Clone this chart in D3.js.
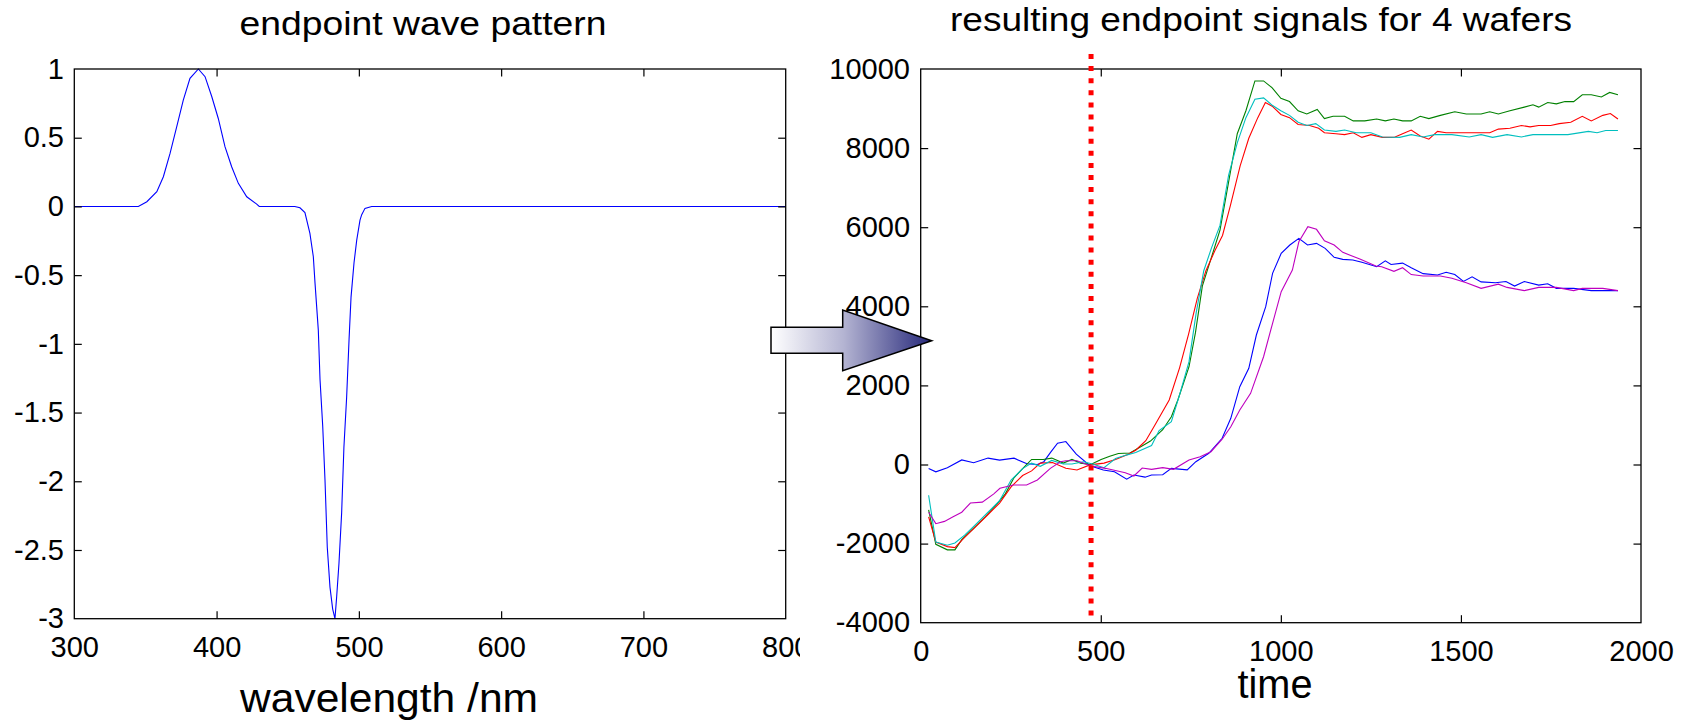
<!DOCTYPE html>
<html><head><meta charset="utf-8">
<script src="https://cdn.jsdelivr.net/npm/d3@7"></script>
<style>
body{margin:0;background:#fff;}
svg{display:block;}
text{font-family:"Liberation Sans",Arial,sans-serif;fill:#000;}
</style>
</head><body>
<svg id="c" width="1689" height="721"></svg>
<script>
// ---------- data ----------
const waveTitle = "endpoint wave pattern";
const waveXLabel = "wavelength /nm";
const waveXTicks = [300, 400, 500, 600, 700, 800];
const waveYTicks = [-3, -2.5, -2, -1.5, -1, -0.5, 0, 0.5, 1];
const waveWavelength = [300,345,351,358,362.6,367.3,372,376.6,381.3,387.2,391.9,396.6,401.2,405.9,410.6,415.3,421.2,428.2,430,455,458.6,462.1,465.6,468,469.2,471.5,472.7,474.6,476.2,477.8,479.7,481.6,483.2,484.4,486,487.9,489.5,491.4,493.1,494.5,496.6,498.5,500.8,502,504.3,509,800];
const waveAmplitude  = [0,0,0.034,0.107,0.216,0.386,0.58,0.774,0.932,1.0,0.944,0.80,0.64,0.435,0.289,0.168,0.07,0.017,0,0,-0.01,-0.045,-0.196,-0.366,-0.56,-0.90,-1.26,-1.60,-1.99,-2.48,-2.77,-2.93,-3.0,-2.84,-2.60,-2.23,-1.75,-1.39,-0.97,-0.66,-0.41,-0.245,-0.10,-0.06,-0.014,0,0];

const signalTitle = "resulting endpoint signals for 4 wafers";
const signalXLabel = "time";
const signalXTicks = [0, 500, 1000, 1500, 2000];
const signalYTicks = [-4000, -2000, 0, 2000, 4000, 6000, 8000, 10000];
const endpointTime = 473;

const blueSignal = [[22,-104],[42,-186],[74,-81],[114,116],[147,46],[187,162],[219,110],[259,160],[295,20],[324,0],[342,71],[360,300],[380,540],[403,580],[432,260],[470,-30],[507,-139],[538,-182],[572,-370],[592,-265],[623,-320],[641,-265],[672,-260],[696,-97],[740,-135],[764,71],[800,283],[837,662],[861,1168],[886,1967],[911,2432],[932,3274],[958,3990],[977,4833],[1001,5339],[1025,5549],[1050,5718],[1074,5549],[1099,5592],[1123,5465],[1148,5238],[1172,5187],[1200,5170],[1225,5116],[1266,5000],[1290,5150],[1306,5058],[1338,5092],[1362,4976],[1395,4826],[1435,4791],[1459,4860],[1483,4802],[1507,4628],[1531,4744],[1556,4617],[1596,4594],[1625,4628],[1649,4512],[1676,4628],[1716,4536],[1741,4570],[1765,4454],[1813,4454],[1862,4396],[1936,4396]];
const greenSignal = [[22,-1148],[42,-2018],[74,-2158],[95,-2158],[114,-1902],[147,-1612],[179,-1322],[211,-1009],[235,-742],[259,-336],[283,-104],[308,128],[340,128],[364,162],[396,35],[420,128],[444,35],[472,0],[501,128],[525,209],[549,280],[581,290],[605,418],[638,592],[672,880],[696,1208],[714,1630],[745,2472],[763,3340],[782,4510],[807,5230],[831,5928],[855,7146],[879,8364],[903,8944],[928,9698],[952,9698],[976,9524],[1000,9257],[1024,9176],[1048,8944],[1072,8862],[1101,8978],[1121,8746],[1145,8804],[1177,8804],[1201,8688],[1233,8688],[1266,8735],[1290,8688],[1314,8735],[1338,8688],[1362,8688],[1387,8804],[1411,8746],[1443,8828],[1483,8920],[1515,8862],[1556,8862],[1580,8920],[1604,8862],[1636,8944],[1676,9036],[1700,9094],[1716,9036],[1741,9152],[1765,9118],[1789,9176],[1813,9176],[1837,9350],[1862,9350],[1890,9292],[1913,9408],[1936,9350]];
const redSignal = [[22,-1322],[42,-1960],[74,-2076],[95,-2100],[122,-1844],[155,-1554],[187,-1264],[219,-974],[251,-568],[283,-278],[308,-162],[332,35],[366,50],[403,-97],[434,-139],[470,-10],[509,35],[541,128],[573,244],[597,360],[625,600],[650,990],[690,1630],[719,2450],[744,3300],[768,4200],[792,4900],[817,5410],[838,5790],[860,6550],[887,7552],[911,8248],[936,8770],[957,9152],[976,9060],[1000,8851],[1024,8770],[1048,8596],[1080,8572],[1105,8503],[1121,8387],[1153,8364],[1177,8340],[1201,8387],[1225,8271],[1250,8340],[1282,8271],[1314,8271],[1338,8364],[1362,8456],[1387,8306],[1411,8224],[1435,8422],[1459,8387],[1507,8387],[1580,8387],[1604,8480],[1636,8503],[1668,8572],[1692,8538],[1716,8572],[1749,8572],[1773,8619],[1805,8654],[1837,8804],[1862,8688],[1894,8828],[1915,8874],[1936,8735]];
const cyanSignal = [[22,-777],[42,-1960],[74,-2042],[95,-1984],[122,-1786],[155,-1496],[187,-1206],[219,-916],[251,-394],[283,-104],[308,35],[332,-46],[364,104],[396,12],[420,12],[452,70],[477,12],[509,-81],[541,151],[573,244],[597,302],[641,480],[662,858],[696,1083],[720,1800],[745,2600],[765,3840],[786,4900],[807,5464],[831,6044],[855,7320],[879,8132],[903,8770],[928,9234],[952,9268],[976,9083],[1000,8944],[1024,8828],[1048,8654],[1072,8572],[1097,8619],[1121,8456],[1153,8422],[1177,8456],[1209,8387],[1250,8387],[1282,8282],[1330,8271],[1362,8340],[1395,8282],[1427,8340],[1475,8340],[1523,8282],[1556,8340],[1588,8271],[1628,8340],[1668,8282],[1700,8340],[1733,8340],[1797,8340],[1854,8422],[1878,8387],[1902,8445],[1936,8445]];
const magentaSignal = [[22,-1206],[42,-1496],[66,-1438],[90,-1322],[114,-1206],[138,-974],[171,-951],[203,-742],[220,-600],[257,-518],[294,-518],[324,-392],[360,-97],[388,70],[403,96],[434,96],[470,-30],[513,-97],[568,-207],[592,-291],[615,-90],[641,-122],[672,-80],[702,-122],[745,114],[776,198],[806,324],[837,640],[861,956],[886,1378],[916,1800],[952,2725],[977,3570],[1001,4369],[1032,4917],[1050,5632],[1075,6012],[1099,5946],[1121,5658],[1148,5549],[1172,5364],[1221,5187],[1264,5018],[1280,5000],[1314,4884],[1338,4976],[1362,4802],[1395,4768],[1443,4768],[1475,4710],[1515,4594],[1556,4454],[1604,4559],[1628,4478],[1676,4396],[1716,4478],[1765,4478],[1813,4396],[1837,4454],[1894,4454],[1936,4396]];

const signalSeries = [
  {name: "wafer 1", color: "#0000ff", values: blueSignal},
  {name: "wafer 2", color: "#008000", values: greenSignal},
  {name: "wafer 3", color: "#ff0000", values: redSignal},
  {name: "wafer 4", color: "#00bfbf", values: cyanSignal},
  {name: "wafer 5", color: "#bf00bf", values: magentaSignal}
];

// ---------- layout ----------
const svg = d3.select("#c");
const FONT = 29, TICK = 7.5;

const defs = svg.append("defs");
defs.append("clipPath").attr("id", "leftClip")
  .append("rect").attr("x", 0).attr("y", 0).attr("width", 800).attr("height", 721);

function frame(g, x0, x1, y0, y1) {
  g.append("rect").attr("x", x0).attr("y", y0).attr("width", x1 - x0).attr("height", y1 - y0)
    .attr("fill", "none").attr("stroke", "#000").attr("stroke-width", 1.3);
}
function styleAxis(sel, fontSize) {
  sel.select(".domain").remove();
  sel.selectAll(".tick line").attr("stroke", "#000").attr("stroke-width", 1.2);
  sel.selectAll(".tick text").attr("font-size", fontSize).attr("font-family", null).attr("fill", "#000");
  sel.attr("font-family", null).attr("font-size", null);
}
function drawAxes(g, x, y, xTicks, yTicks, fmtX, fmtY, xPad, yPad) {
  const [xa, xb] = x.range(), [yb, ya] = y.range();
  const bottom = g.append("g").attr("transform", `translate(0,${yb})`)
    .call(d3.axisBottom(x).tickValues(xTicks).tickFormat(fmtX).tickSizeInner(-TICK).tickSizeOuter(0).tickPadding(xPad));
  styleAxis(bottom, FONT);
  const top = g.append("g").attr("transform", `translate(0,${ya})`)
    .call(d3.axisTop(x).tickValues(xTicks).tickFormat("").tickSizeInner(-TICK).tickSizeOuter(0));
  styleAxis(top, FONT);
  const left = g.append("g").attr("transform", `translate(${xa},0)`)
    .call(d3.axisLeft(y).tickValues(yTicks).tickFormat(fmtY).tickSizeInner(-TICK).tickSizeOuter(0).tickPadding(yPad));
  styleAxis(left, FONT);
  const right = g.append("g").attr("transform", `translate(${xb},0)`)
    .call(d3.axisRight(y).tickValues(yTicks).tickFormat("").tickSizeInner(-TICK).tickSizeOuter(0));
  styleAxis(right, FONT);
  [bottom, top].forEach(a => a.selectAll(".tick line").filter(d => d === xTicks[0] || d === xTicks[xTicks.length-1]).remove());
  [left, right].forEach(a => a.selectAll(".tick line").filter(d => d === yTicks[0] || d === yTicks[yTicks.length-1]).remove());
  frame(g, xa, xb, ya, yb);
}
const fmt = d => String(d);

// ---------- left panel ----------
const L = {x0: 74.3, x1: 785.7, y0: 69, y1: 618.7};
const gL = svg.append("g").attr("clip-path", "url(#leftClip)");
const xW = d3.scaleLinear().domain([300, 800]).range([L.x0, L.x1]);
const yW = d3.scaleLinear().domain([-3, 1]).range([L.y1, L.y0]);

const waveData = waveWavelength.map((w, i) => [w, waveAmplitude[i]]);
gL.append("path").datum(waveData)
  .attr("fill", "none").attr("stroke", "#0000ff").attr("stroke-width", 1.1)
  .attr("d", d3.line().x(d => xW(d[0])).y(d => yW(d[1])));

drawAxes(gL, xW, yW, waveXTicks, waveYTicks, fmt, fmt, 17.4, 10.3);

gL.append("text").attr("x", 423).attr("y", 35).attr("text-anchor", "middle")
  .attr("font-size", 34).attr("textLength", 367).attr("lengthAdjust", "spacingAndGlyphs").text(waveTitle);
gL.append("text").attr("x", 389).attr("y", 712).attr("text-anchor", "middle")
  .attr("font-size", 41).attr("textLength", 298).attr("lengthAdjust", "spacingAndGlyphs").text(waveXLabel);

// ---------- right panel ----------
const R = {x0: 920.7, x1: 1641, y0: 69, y1: 622.7};
const gR = svg.append("g");
const xS = d3.scaleLinear().domain([0, 2000]).range([R.x0, R.x1]);
const yS = d3.scaleLinear().domain([-4000, 10000]).range([R.y1, R.y0]);

const line = d3.line().x(d => xS(d[0])).y(d => yS(d[1]));
gR.selectAll("path.sig").data(signalSeries).join("path").attr("class", "sig")
  .attr("fill", "none").attr("stroke", d => d.color).attr("stroke-width", 1.1)
  .attr("d", d => line(d.values));

drawAxes(gR, xS, yS, signalXTicks, signalYTicks, fmt, fmt, 17.4, 10.7);

gR.append("line")
  .attr("x1", xS(endpointTime)).attr("x2", xS(endpointTime))
  .attr("y1", 54).attr("y2", 619)
  .attr("stroke", "#ff0000").attr("stroke-width", 5).attr("stroke-dasharray", "5 7.1");

gR.append("text").attr("x", 1261).attr("y", 31).attr("text-anchor", "middle")
  .attr("font-size", 34).attr("textLength", 622).attr("lengthAdjust", "spacingAndGlyphs").text(signalTitle);
gR.append("text").attr("x", 1275).attr("y", 698).attr("text-anchor", "middle")
  .attr("font-size", 40).attr("textLength", 75).attr("lengthAdjust", "spacingAndGlyphs").text(signalXLabel);

// ---------- arrow ----------
const grad = defs.append("linearGradient").attr("id", "arrowGrad")
  .attr("gradientUnits", "userSpaceOnUse").attr("x1", 771).attr("y1", 0).attr("x2", 932).attr("y2", 0);
grad.append("stop").attr("offset", 0).attr("stop-color", "#ffffff");
grad.append("stop").attr("offset", 0.45).attr("stop-color", "#b4b4d2");
grad.append("stop").attr("offset", 1).attr("stop-color", "#26287a");
const arrowPts = [[771,327.3],[842.7,327.3],[842.7,310],[931.7,340.7],[842.7,370.7],[842.7,353.3],[771,353.3]];
svg.append("polygon").attr("points", arrowPts.map(p => p.join(",")).join(" "))
  .attr("fill", "url(#arrowGrad)").attr("stroke", "#000").attr("stroke-width", 1.5).attr("stroke-linejoin", "miter");
</script>
</body></html>
